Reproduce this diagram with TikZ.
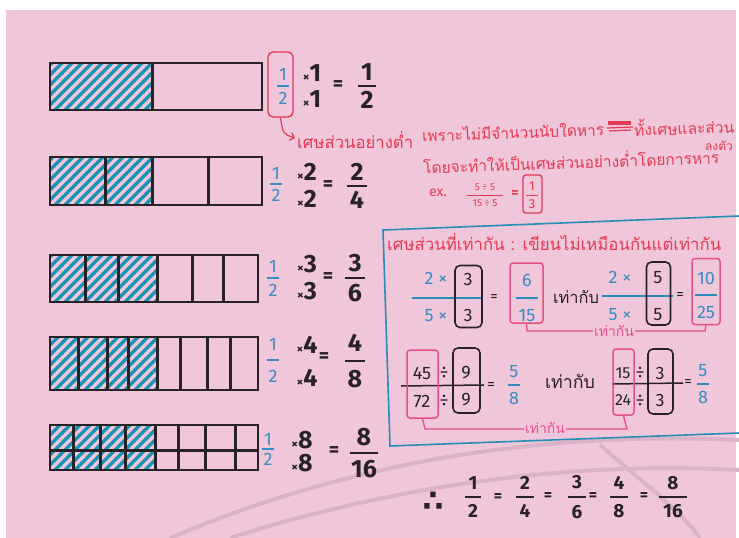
\documentclass[tikz,border=0pt]{standalone}
\usepackage{fontspec}
\setmainfont{Fira Sans}
\newfontfamily\thai[Script=Thai]{Loma}
\newfontfamily\dejavu{DejaVu Sans}
\usetikzlibrary{arrows.meta}
\definecolor{bg}{RGB}{240,198,218}
\definecolor{ink}{RGB}{38,34,38}
\definecolor{hatchc}{RGB}{24,148,178}
\definecolor{bluet}{RGB}{55,140,195}
\definecolor{redt}{RGB}{226,58,84}
\definecolor{pinkb}{RGB}{232,80,130}
\definecolor{boxblue}{RGB}{40,140,185}
\newcommand\tm{{\fontsize{13}{13}\selectfont ×}}
\newcommand\fitw[2]{\resizebox{#1pt}{!}{#2}}
\newcommand\FR[8]{%
  \node[#6] (#1n) at (#2,{#3-#4}) {#7};
  \node[#6] (#1d) at (#2,{#3+#4}) {#8};
  \draw[#6l] ({#2-#5},#3) -- ({#2+#5},#3);}
\newcommand\hatch[4]{%
  \begin{scope}
    \clip (#1,#2) rectangle (#3,#4);
    \foreach \k in {-60,-50,...,120} \draw[hat] ({#1+\k},{#4+5}) -- ++(65,-65);
  \end{scope}}
\tikzset{
  bar/.style={draw=ink,line width=2.4pt},
  div/.style={draw=ink,line width=3pt},
  hat/.style={draw=hatchc,line width=3.2pt},
  bigk/.style={text=ink,font=\fontsize{25}{25}\selectfont\bfseries,inner sep=0pt},
  bigkl/.style={draw=ink,line width=2.6pt},
  midk/.style={text=ink,font=\fontsize{19}{19}\selectfont\bfseries,inner sep=0pt},
  midkl/.style={draw=ink,line width=2.2pt},
  blu/.style={text=bluet,font=\fontsize{18}{18}\selectfont,inner sep=0pt},
  blul/.style={draw=bluet,line width=1.2pt},
  bbox/.style={text=bluet,font=\fontsize{18}{18}\selectfont,inner sep=0pt},
  bboxl/.style={draw=boxblue,line width=1.5pt},
  kbox/.style={text=ink,font=\fontsize{18}{18}\selectfont,inner sep=0pt},
  kboxl/.style={draw=ink,line width=1.5pt},
  smr/.style={text=redt,font=\fontsize{10}{10}\selectfont,inner sep=0pt},
  smrl/.style={draw=redt,line width=1pt},
  thr/.style={text=redt,font=\thai\fontsize{17}{17}\selectfont,inner sep=0pt},
  thk/.style={text=ink,font=\thai\fontsize{17}{17}\selectfont,inner sep=0pt},
  thp/.style={text=pinkb,font=\thai\fontsize{14}{14}\selectfont,inner sep=1pt,fill=bg},
  redbox/.style={draw=redt,line width=1.4pt,rounded corners=5pt,inner sep=0pt},
  pbox/.style={draw=pinkb,line width=1.5pt,rounded corners=3pt,inner sep=0pt},
  blkbox/.style={draw=ink,line width=1.6pt,rounded corners=5pt,inner sep=0pt},
  eq/.style={text=ink,font=\fontsize{20}{20}\selectfont\bfseries,inner sep=0pt},
  eqs/.style={text=ink,font=\fontsize{15}{15}\selectfont,inner sep=0pt},
  bracket/.style={draw=pinkb,line width=1.4pt},
}
\begin{document}
\begin{tikzpicture}[x=1pt,y=-1pt]
\useasboundingbox (0,0) rectangle (739,538);
\fill[white] (0,0) rectangle (739,538);
\fill[bg] (6,10) rectangle (736,538);
% faint background arcs
\begin{scope}[draw=black!9!bg,line width=4pt]
  \draw (170,538) .. controls (330,470) and (520,430) .. (739,440);
  \draw (230,538) .. controls (380,490) and (560,460) .. (739,470);
  \draw (600,445) .. controls (640,480) and (680,510) .. (700,538);
\end{scope}
% ---------- bars ----------
\hatch{50}{63}{152}{110}
\draw[bar] (50,63) rectangle (262,110);
\draw[div] (152,63) -- (152,110);
\hatch{50}{157}{152}{205}
\draw[bar] (50,157) rectangle (262,205);
\foreach \x in {105,152,208} \draw[div] (\x,157) -- (\x,205);
\hatch{50}{255}{156}{302}
\draw[bar] (50,255) rectangle (258,302);
\foreach \x in {85,118,157,192,223} \draw[div] (\x,255) -- (\x,302);
\hatch{50}{337}{156}{390}
\draw[bar] (50,337) rectangle (258,390);
\foreach \x in {78,107,128,157,180,207,230} \draw[div] (\x,337) -- (\x,390);
\hatch{50}{425}{156}{470}
\draw[bar] (50,425) rectangle (258,470);
\draw[div] (50,450) -- (258,450);
\foreach \x in {73,100,125,155,178,205,235} \draw[div] (\x,425) -- (\x,470);
% ---------- row 1 ----------
\FR{ra}{283}{86}{12}{6}{blu}{1}{2}
\node[redbox,minimum width=25pt,minimum height=65pt] (box1) at (280.5,84.5) {};
\node[bigk] (rbn) at (312,73) {\tm1};
\node[bigk] (rbd) at (312,99) {\tm1};
\node[eq] (req) at (338,86) {=};
\FR{rc}{367}{86}{14}{9}{bigk}{1}{2}
% ---------- row 2 ----------
\FR{sa}{276}{184}{11}{6}{blu}{1}{2}
\node[bigk] (sbn) at (307,172) {\tm2};
\node[bigk] (sbd) at (307,199) {\tm2};
\node[eq] (seq) at (328,186) {=};
\FR{sc}{357}{186}{14}{10}{bigk}{2}{4}
% ---------- row 3 ----------
\FR{ta}{273}{278}{12}{6}{blu}{1}{2}
\node[bigk] (tbn) at (307,264) {\tm3};
\node[bigk] (tbd) at (307,291) {\tm3};
\node[eq] (teq) at (328,278) {=};
\FR{tc}{355}{278}{15}{10}{bigk}{3}{6}
% ---------- row 4 ----------
\FR{ua}{273}{360}{16}{6}{blu}{1}{2}
\node[bigk] (ubn) at (307,345) {\tm4};
\node[bigk] (ubd) at (307,378) {\tm4};
\node[eq] (ueq) at (324,358) {=};
\FR{uc}{355}{361}{18}{10}{bigk}{4}{8}
% ---------- row 5 ----------
\FR{va}{268}{449}{10}{6}{blu}{1}{2}
\node[bigk] (vbn) at (302,440) {\tm8};
\node[bigk] (vbd) at (302,463) {\tm8};
\node[eq] (veq) at (334,452) {=};
\FR{vc}{364}{453}{16}{14}{bigk}{8}{16}
% ---------- red notes ----------
\node[thr,anchor=west] (t1) at (297,140) {\fitw{116}{เศษส่วนอย่างต่ำ}};
\coordinate (arrEnd) at (295,138);
\draw[redt,line width=1.2pt,-{Straight Barb[length=4pt]}] (box1.south) .. controls (283,134) .. (arrEnd);
\node[thr,anchor=west,rotate=2] (t2) at (422,135) {\fitw{182}{เพราะไม่มีจำนวนนับใดหาร}};
\fill[redt] (608,121) rectangle (631,125);
\draw[redt,line width=1.2pt] (607,128) -- (633,127) (609,131) -- (631,130);
\node[thr,anchor=west,rotate=2] (t3) at (634,128) {\fitw{100}{ทั้งเศษและส่วน}};
\node[thr,font=\thai\fontsize{12}{12}\selectfont] (t4) at (719,146) {ลงตัว};
\node[thr,anchor=west,rotate=2] (t5) at (423,166) {\fitw{296}{โดยจะทำให้เป็นเศษส่วนอย่างต่ำโดยการหาร}};
\node[thr,font=\fontsize{14}{14}\selectfont] (ex) at (438,193) {ex.};
\node[smr] (exn) at (485,187) {5 ÷ 5};
\node[smr] (exd) at (485,203) {15 ÷ 5};
\draw[smrl] (467,195) -- (503,195);
\node[smr,font=\fontsize{14}{14}\selectfont\bfseries] (exeq) at (515,194) {=};
\FR{ey}{532}{195}{9}{6}{smr}{\fontsize{13}{13}\selectfont 1}{\fontsize{13}{13}\selectfont 3}
\node[redbox,rounded corners=3pt,minimum width=19pt,minimum height=38pt] (exbox) at (532.5,194) {};
% ---------- blue box ----------
\draw[draw=boxblue,line width=1.6pt] (739,216) -- (383,230) -- (390,446) -- (739,433);
\node[thr,anchor=west] (hd) at (387,242) {\fitw{334}{เศษส่วนที่เท่ากัน : เขียนไม่เหมือนกันแต่เท่ากัน}};
% row A
\node[bbox] (a1n) at (436,278) {2 ×};
\node[bbox] (a1d) at (436,316) {5 ×};
\node[kbox] (a1bn) at (468,279) {3};
\node[kbox] (a1bd) at (468,315) {3};
\draw[bboxl] (412,298) -- (482,298);
\node[blkbox,minimum width=27pt,minimum height=62pt] (a1box) at (468.5,296.5) {};
\node[eqs] (aeq1) at (494,298) {=};
\FR{a2}{527}{298}{18}{11}{bbox}{6}{15}
\node[pbox,minimum width=33pt,minimum height=60pt] (a2box) at (526.5,293) {};
\node[thk] (aw) at (576,297) {\fitw{46}{เท่ากับ}};
\node[bbox] (a3n) at (620,277) {2 ×};
\node[bbox] (a3d) at (620,315) {5 ×};
\node[kbox] (a3bn) at (658,278) {5};
\node[kbox] (a3bd) at (658,315) {5};
\draw[bboxl] (602,296) -- (673,296);
\node[blkbox,minimum width=24pt,minimum height=63pt] (a3box) at (658.5,293.5) {};
\node[eqs] (aeq2) at (680,296) {=};
\FR{a4}{706}{295}{17}{11}{bbox}{10}{25}
\node[pbox,minimum width=28pt,minimum height=66pt] (a4box) at (706,291.5) {};
\coordinate (abl) at (527,331);
\coordinate (abr) at (705,331);
\draw[bracket] (a2box.south) -- (abl) -- (abr) -- (a4box.south);
\node[thp] (alab) at (614,331) {เท่ากัน};
% row B
\node[kbox] (b1n) at (422,373) {45};
\node[kbox] (b1d) at (422,401) {72};
\node[kbox] (b1dn) at (444,373) {÷};
\node[kbox] (b1dd) at (444,401) {÷};
\node[kbox] (b1bn) at (466,373) {9};
\node[kbox] (b1bd) at (466,400) {9};
\draw[kboxl] (401,386) -- (484,385);
\node[pbox,minimum width=31pt,minimum height=68pt] (b1box) at (422.5,384) {};
\node[blkbox,minimum width=27pt,minimum height=65pt] (b1kbox) at (466.5,380.5) {};
\node[eqs] (beq1) at (491,386) {=};
\FR{b2}{514}{385}{13}{6}{bbox}{5}{8}
\node[thk] (bw) at (570,381) {\fitw{50}{เท่ากับ}};
\node[kbox,font=\fontsize{16}{16}\selectfont] (b3n) at (623,373) {15};
\node[kbox,font=\fontsize{16}{16}\selectfont] (b3d) at (623,400) {24};
\node[kbox] (b3dn) at (640,373) {÷};
\node[kbox] (b3dd) at (640,401) {÷};
\node[kbox] (b3bn) at (660,373) {3};
\node[kbox] (b3bd) at (660,400) {3};
\draw[kboxl] (612,384) -- (683,383);
\node[pbox,minimum width=21pt,minimum height=66pt] (b3box) at (623.5,382) {};
\node[blkbox,minimum width=25pt,minimum height=65pt] (b3kbox) at (660.5,381.5) {};
\node[eqs] (beq2) at (688,383) {=};
\FR{b4}{703}{384}{13}{6}{bbox}{5}{8}
\coordinate (bbl) at (425,429);
\coordinate (bbr) at (627,429);
\draw[bracket] (b1box.south) -- (bbl) -- (bbr) -- (b3box.south);
\node[thp] (blab) at (545,428) {เท่ากัน};
% ---------- conclusion ----------
\node[text=ink,font=\dejavu\fontsize{30}{30}\selectfont\bfseries,inner sep=0pt] (th) at (433,502) {∴};
\FR{c1}{473}{497}{14}{8}{midk}{1}{2}
\node[eq,font=\fontsize{16}{16}\selectfont\bfseries] (ce1) at (498,498) {=};
\FR{c2}{525}{497}{14}{9}{midk}{2}{4}
\node[eq,font=\fontsize{16}{16}\selectfont\bfseries] (ce2) at (548,497) {=};
\FR{c3}{577}{497}{15}{9}{midk}{3}{6}
\node[eq,font=\fontsize{16}{16}\selectfont\bfseries] (ce3) at (593,497) {=};
\FR{c4}{619}{497}{14}{9}{midk}{4}{8}
\node[eq,font=\fontsize{16}{16}\selectfont\bfseries] (ce4) at (644,497) {=};
\FR{c5}{673}{497}{14}{14}{midk}{8}{16}
\end{tikzpicture}
\end{document}
